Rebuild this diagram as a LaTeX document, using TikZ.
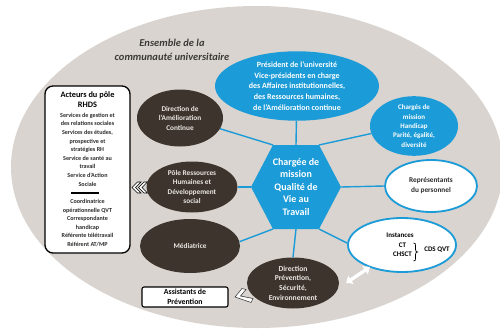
\documentclass[tikz,border=0pt]{standalone}
\usepackage{fontspec}
\setmainfont{Carlito}
\usetikzlibrary{shapes.geometric,arrows.meta}
\definecolor{bgcol}{RGB}{217,212,207}
\definecolor{qblue}{RGB}{27,155,215}
\definecolor{dbrown}{RGB}{62,52,46}
\definecolor{ltext}{RGB}{235,231,226}
\definecolor{dtext}{RGB}{45,45,45}
\definecolor{ttext}{RGB}{60,58,56}
\newcommand\myfs[2]{\fontsize{#1}{#2}\selectfont}
\begin{document}
\begin{tikzpicture}[x=1pt,y=-1pt,
  darkell/.style={ellipse, fill=dbrown, text=ltext, align=center, inner sep=0pt},
  blueell/.style={ellipse, fill=qblue, text=white, align=center, inner sep=0pt},
  whiteell/.style={ellipse, draw=qblue, line width=1.8pt, fill=white, text=dtext, align=center, inner sep=0pt},
  link/.style={draw=qblue, line width=1.4pt},
  chev/.style={fill=white, draw=black, line width=0.6pt, line join=miter},
  boxstyle/.style={draw=black, fill=white, text=black},
  smalltxt/.style={font=\myfs{6.1}{8.6}\bfseries, text=dtext, align=center, inner sep=0pt},
  insttxt/.style={font=\myfs{7}{9}\bfseries, text=black, align=center, inner sep=0pt},
  dblarrow/.style={line width=3.6pt, {Triangle[width=10pt,length=6pt]}-{Triangle[width=10pt,length=6pt]}}]
\useasboundingbox (0,0) rectangle (500,329);
% background community ellipse
\fill[bgcol] (257,167) ellipse [x radius=246, y radius=161];

% title
\node[font=\myfs{10.5}{14}\bfseries\itshape, text=ttext, align=center] (title) at (172,50)
  {Ensemble de la\\communauté universitaire};

% hexagon
\coordinate (hL) at (251,187);
\coordinate (hTL) at (273,145);
\coordinate (hTR) at (319,145);
\coordinate (hR) at (341,187);
\coordinate (hBR) at (319,229);
\coordinate (hBL) at (273,229);
\coordinate (hT) at (296,145);
\coordinate (hB) at (296,229);
\fill[qblue] (hL) -- (hTL) -- (hTR) -- (hR) -- (hBR) -- (hBL) -- cycle;
\node[text=white, align=center, font=\myfs{10}{12.5}\bfseries] (hex) at (296,187)
  {Chargée de\\mission\\Qualité de\\Vie au\\Travail};

% blue ellipses
\node[blueell, minimum width=164pt, minimum height=66pt, font=\myfs{8}{10.8}\bfseries] (pres) at (297,86)
  {Président de l’université\\Vice-présidents en charge\\des Affaires institutionnelles,\\des Ressources humaines,\\de l’Amélioration continue};
\node[blueell, minimum width=88pt, minimum height=58pt, font=\myfs{7}{9.3}\bfseries] (chg) at (414,126)
  {Chargés de\\mission\\Handicap\\Parité, égalité,\\diversité};

% white ellipses
\node[whiteell, minimum width=92pt, minimum height=52pt, font=\myfs{7.3}{10}\bfseries] (rep) at (431,186)
  {Représentants\\du personnel};
\node[whiteell, minimum width=108pt, minimum height=54pt] (inst) at (402,245) {};
\node[insttxt] (instA) at (400,235.5) {Instances};
\node[insttxt] (instB) at (402.5,249.5) {CT\\CHSCT};
\node[insttxt] (instC) at (437,250) {CDS QVT};
\draw[black, line width=0.7pt] (instB.north east) ++(1.5,0.5) coordinate (brA)
  .. controls +(2,0) and +(0,-2) .. ++(2,3) coordinate (brB) -- ++(0,3.5)
  .. controls +(0,2) and +(-1,0) .. ++(2,2.5) coordinate (brC)
  .. controls +(-1,0) and +(0,-2) .. ++(-2,2.5) -- ++(0,3.5)
  .. controls +(0,2) and +(2,0) .. ++(-2,3);

% dark ellipses
\node[darkell, minimum width=86pt, minimum height=57pt, font=\myfs{7.3}{9.5}\bfseries] (dam) at (180,118)
  {Direction de\\l’Amélioration\\Continue};
\node[darkell, minimum width=91pt, minimum height=51pt, font=\myfs{7.3}{9.3}\bfseries] (pole) at (192,187)
  {Pôle Ressources\\Humaines et\\Développement\\social};
\node[darkell, minimum width=100pt, minimum height=54pt, font=\myfs{7.3}{9.3}\bfseries] (med) at (190,246)
  {Médiatrice};
\node[darkell, minimum width=92pt, minimum height=51pt, font=\myfs{7.6}{9.7}\bfseries] (dps) at (293,283)
  {Direction\\Prévention,\\Sécurité,\\Environnement};

% connectors
\draw[link] (hT) -- (pres);
\draw[link] (hTL) -- (dam.-15);
\draw[link] (hTR) -- (chg.190);
\draw[link] (hR) -- (rep.west);
\draw[link] (hL) -- (pole.east);
\draw[link] (hBL) -- (med.5);
\draw[link] (hBR) -- (inst.178);
\draw[link] (hB) -- (dps.north);

% RHDS box
\node[boxstyle, line width=1.3pt, rounded corners=8pt, minimum width=85pt, minimum height=167pt] (rhds) at (87.5,169.5) {};
\node[font=\myfs{8.3}{10}\bfseries, text=black, align=center, inner sep=0pt] (rhdsA) at (87.5,99.5)
  {Acteurs du pôle\\RHDS};
\node[smalltxt] (rhdsB) at (87.5,149.5)
  {Services de gestion et\\des relations sociales\\Services des études,\\prospective et\\stratégies RH\\Service de santé au\\travail\\Service d’Action\\Sociale};
\node[fill=black, minimum width=28pt, minimum height=2pt, inner sep=0pt] (rhdsRule) at (85,193) {};
\node[smalltxt] (rhdsC) at (87.5,223)
  {Coordinatrice\\opérationnelle QVT\\Correspondante\\handicap\\Référente télétravail\\Référent AT/MP};

% Assistants box
\node[boxstyle, line width=1.1pt, rounded corners=2pt, minimum width=86pt, minimum height=20pt,
      inner sep=1pt, align=center, font=\myfs{7.8}{9.5}\bfseries] (asst) at (185,297)
  {Assistants de\\Prévention};

% double chevron between box and Pole RH
\draw[chev] (132,187.5) -- (137.5,182) -- (141,182) -- (135.5,187.5) -- (141,193) -- (137.5,193) -- cycle;
\draw[chev] (138.5,187.5) -- (144,182) -- (147.5,182) -- (142,187.5) -- (147.5,193) -- (144,193) -- cycle;

% single chevron near Assistants
\draw[chev, draw=black!75] (235,297) -- (242,288.5) -- (246,289.5) -- (240.5,296) -- (253,298.5) -- (251,302.5) -- cycle;

% double arrow between Direction Prevention and Instances
\coordinate (da1) at (346,283);
\coordinate (da2) at (370,267);
\draw[dblarrow, black!30, shift={(0.8,1.2)}] (da1) -- (da2);
\draw[dblarrow, white] (da1) -- (da2);
\end{tikzpicture}
\end{document}
